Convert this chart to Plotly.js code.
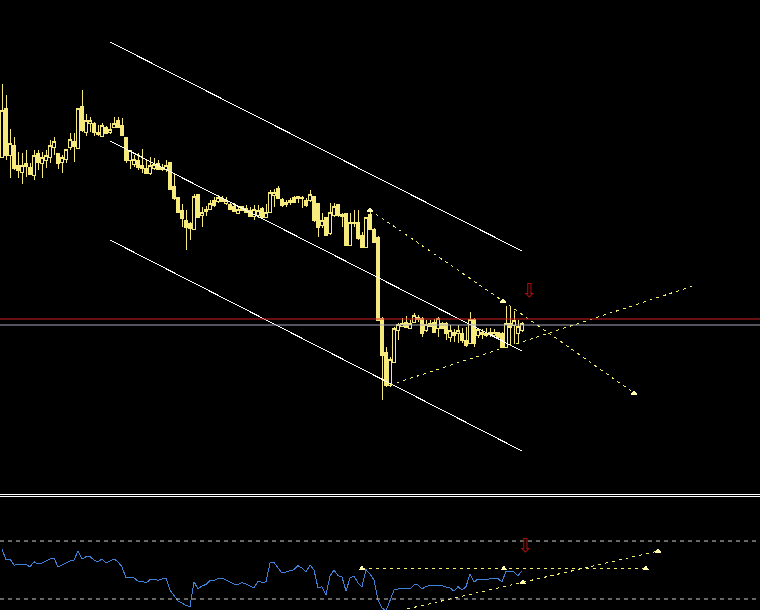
<!DOCTYPE html>
<html>
<head>
<meta charset="utf-8">
<script src="https://cdn.plot.ly/plotly-3.0.1.min.js"></script>
<style>html,body{margin:0;padding:0;background:#000;}#chart{width:760px;height:610px;}#chart .cartesianlayer path{shape-rendering:crispEdges;}</style>
</head>
<body>
<div id="chart"></div>
<script>
// ---- price candles (bar index 0..130) ----
const openP  = [343,392,345,355,335,328,337,333,325,347,337,340,343,353,347,338,341,353,359,352,394,368,377,377,368,364,373,368,373,380,375,363,340,336,340,335,332,327,332,337,333,331,338,314,303,290,280,277,271,306,285,289,291,300,299,302,297,296,294,287,294,292,290,284,285,292,283,288,305,312,301,296,298,303,302,302,300,300,304,297,275,283,267,285,296,286,287,255,278,278,265,253,286,271,263,182,148,115,138,170,174,178,172,178,181,182,170,177,178,172,177,177,163,168,167,167,160,157,181,165,168,165,168,165,168,167,153,177,175,167,170];
const highP  = [416,405,371,363,348,347,350,337,350,350,348,350,360,363,347,345,351,367,367,392,410,386,383,378,375,377,374,377,383,383,382,363,350,345,347,351,340,343,342,340,336,340,338,327,303,296,290,278,306,306,293,294,300,303,305,304,303,298,297,294,294,295,293,295,295,293,296,310,311,314,302,300,302,304,304,304,302,310,304,297,287,283,297,297,296,287,287,287,290,290,268,283,291,272,264,183,153,143,173,177,182,184,180,187,185,183,180,180,181,183,178,178,175,171,175,172,173,188,182,172,171,172,172,171,168,168,194,194,189,180,178];
const lowP   = [342,340,322,330,322,316,323,325,320,330,322,332,337,345,331,327,337,350,338,352,368,364,368,364,364,363,366,366,372,372,364,337,331,333,330,327,327,325,330,330,329,328,310,300,287,273,250,260,270,283,273,284,290,293,297,298,295,290,288,287,289,287,283,280,282,283,282,287,293,301,293,293,295,297,297,292,293,298,278,263,272,264,265,283,283,273,255,255,273,260,252,252,270,257,179,100,113,113,137,160,173,172,172,177,178,163,168,173,167,163,171,160,158,158,157,157,153,157,153,162,161,163,163,163,160,152,153,155,156,157,168];
const closeP = [390,345,357,332,330,335,334,326,345,338,343,345,355,359,337,343,351,361,354,392,370,380,380,368,366,375,367,371,377,373,365,340,350,341,333,332,327,335,336,331,331,335,311,302,288,282,273,272,304,283,288,291,297,295,303,299,300,291,289,291,290,288,284,291,290,283,288,308,308,302,295,298,300,298,304,303,295,306,280,273,280,265,288,294,285,284,255,278,277,262,253,283,271,258,180,145,115,141,172,176,177,173,177,185,183,167,176,174,168,182,172,167,170,165,170,160,155,181,157,171,166,167,166,168,163,153,177,173,180,174,177];

// ---- oscillator (lower window, 0..100 scale, levels 30/70) ----
const osc = [64.5,56.9,57.6,53.4,53.7,53.8,54.1,52.1,55.7,54.1,54.8,56.2,57.6,58.3,52.1,53.4,54.8,56.2,56.6,63.3,57.6,59.2,59.2,56.9,55.7,57.6,54.8,56.2,57.6,55.7,52.1,44.5,44.7,44.5,42.4,42.4,41.0,43.4,43.8,42.8,43.8,44.5,36.2,32.1,28.6,27.2,25.5,24.7,41.9,36.9,39.0,40.0,42.8,42.8,44.1,44.5,43.1,41.4,40.3,40.1,41.4,40.3,39.0,37.6,42.4,41.4,41.9,54.8,55.3,51.4,47.9,48.6,49.3,50.3,53.0,51.4,48.6,53.4,50.0,37.6,38.5,32.8,45.9,50.0,46.1,45.2,35.5,44.5,45.9,41.0,38.5,50.3,47.2,43.1,29.3,23.8,21.7,29.3,36.2,36.9,36.9,36.9,36.9,39.7,39.7,36.9,38.6,39.3,39.0,39.3,39.3,38.3,37.6,35.5,38.5,36.2,38.5,47.2,41.7,43.8,43.1,43.4,44.1,44.5,44.1,41.7,49.3,48.8,48.8,45.9,49.5];
const oscLevels = [30, 70];

// ---- drawn objects on the price window ----
const chanX = [27, 130];
const chanUpper = [458, 249];
const chanMiddle = [359, 149];
const chanLower = [260, 49];
const fallX = [92, 125.25, 158];
const fallY = [290, 199, 107];
const riseX = [97, 172.75];
const riseY = [115, 214];
const redLevel = 181;
const greyLevel = 175;
const arrowTop = {x: 131.75, y: 210};

// ---- drawn objects on the oscillator window ----
const hLineX = [90, 125.5, 161];
const hLineY = [51.0, 51.0, 51.0];
const oRiseX = [94.5, 130.2, 164];
const oRiseY = [18.8, 41.5, 63.1];
const arrowBot = {x: 130.75, y: 67.2};

const idx = openP.map((_, i) => i);
const oscIdx = osc.map((_, i) => i);

const candleCol = '#f6ea7c';
const dashYel = '#f5f06a';
const anchorCol = '#fffcb0';

const traces = [
  {type:'candlestick', x: idx, open: openP, high: highP, low: lowP, close: closeP,
   xaxis:'x', yaxis:'y',
   increasing:{line:{color:candleCol, width:1}, fillcolor:'#000000'},
   decreasing:{line:{color:candleCol, width:1}, fillcolor:candleCol},
   whiskerwidth:0, hoverinfo:'skip'},
  {type:'scatter', mode:'lines', x: chanX, y: chanUpper, line:{color:'#ffffff', width:1}, xaxis:'x', yaxis:'y'},
  {type:'scatter', mode:'lines', x: chanX, y: chanMiddle, line:{color:'#ffffff', width:1}, xaxis:'x', yaxis:'y'},
  {type:'scatter', mode:'lines', x: chanX, y: chanLower, line:{color:'#ffffff', width:1}, xaxis:'x', yaxis:'y'},
  {type:'scatter', mode:'lines', x: fallX, y: fallY, line:{color:dashYel, width:1, dash:'3px,4px'}, xaxis:'x', yaxis:'y'},
  {type:'scatter', mode:'markers', x: fallX, y: fallY, marker:{symbol:'triangle-up', size:6, color:anchorCol}, xaxis:'x', yaxis:'y'},
  {type:'scatter', mode:'lines', x: riseX, y: riseY, line:{color:dashYel, width:1, dash:'3px,4px'}, xaxis:'x', yaxis:'y'},
  {type:'scatter', mode:'lines', x: oscIdx, y: osc, line:{color:'#3f80d8', width:1}, xaxis:'x', yaxis:'y2'},
  {type:'scatter', mode:'lines', x: hLineX, y: hLineY, line:{color:dashYel, width:1, dash:'3px,4px'}, xaxis:'x', yaxis:'y2'},
  {type:'scatter', mode:'markers', x: hLineX, y: hLineY, marker:{symbol:'triangle-up', size:6, color:anchorCol}, xaxis:'x', yaxis:'y2'},
  {type:'scatter', mode:'lines', x: oRiseX, y: oRiseY, line:{color:dashYel, width:1, dash:'3px,4px'}, xaxis:'x', yaxis:'y2'},
  {type:'scatter', mode:'markers', x: oRiseX.slice(1), y: oRiseY.slice(1), marker:{symbol:'triangle-up', size:6, color:anchorCol}, xaxis:'x', yaxis:'y2'}
];

const H = 610;
const topDomain = [(H - 492) / H, 1];
const botDomain = [0, (H - 498) / H];

const shapes = [
  {type:'line', xref:'paper', yref:'y', x0:0, x1:1, y0:redLevel, y1:redLevel, line:{color:'#d02020', width:1.2}},
  {type:'line', xref:'paper', yref:'y', x0:0, x1:1, y0:greyLevel, y1:greyLevel, line:{color:'#a8a8bc', width:1}},
  {type:'line', xref:'paper', yref:'paper', x0:0, x1:1, y0:1 - 494.5/H, y1:1 - 494.5/H, line:{color:'#ffffff', width:1}},
  {type:'line', xref:'paper', yref:'paper', x0:0, x1:1, y0:1 - 496.5/H, y1:1 - 496.5/H, line:{color:'#ffffff', width:1}}
];
oscLevels.forEach(v => shapes.push({type:'line', xref:'paper', yref:'y2', x0:0, x1:1, y0:v, y1:v, line:{color:'#cfcfcf', width:1, dash:'4px,4px'}}));

const annotations = [
  {x: arrowTop.x, y: arrowTop.y, xref:'x', yref:'y', text:'⇩', showarrow:false, font:{family:'DejaVu Sans', size:19, color:'#b01010'}},
  {x: arrowBot.x, y: arrowBot.y, xref:'x', yref:'y2', text:'⇩', showarrow:false, font:{family:'DejaVu Sans', size:19, color:'#b01010'}}
];

const layout = {
  width:760, height:610,
  margin:{l:0, r:0, t:0, b:0, pad:0},
  paper_bgcolor:'#000000', plot_bgcolor:'#000000',
  showlegend:false,
  boxgap:0.2,
  xaxis:{range:[-0.5, 189.5], visible:false, showgrid:false, zeroline:false, rangeslider:{visible:false}, fixedrange:true},
  yaxis:{domain: topDomain, range:[8, 500], visible:false, showgrid:false, zeroline:false},
  yaxis2:{domain: botDomain, range:[22.4, 99.7], visible:false, showgrid:false, zeroline:false},
  shapes: shapes,
  annotations: annotations
};

Plotly.newPlot('chart', traces, layout, {staticPlot:true, displayModeBar:false});
</script>
</body>
</html>
